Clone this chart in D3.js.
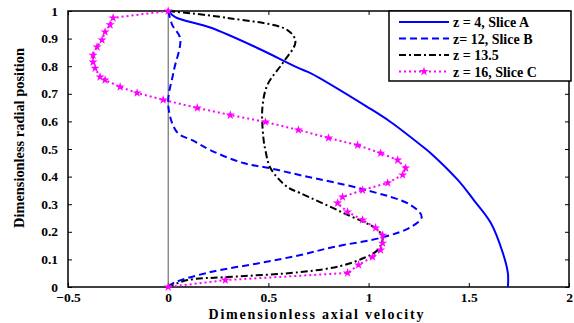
<!DOCTYPE html>
<html>
<head>
<meta charset="utf-8">
<script src="https://cdn.jsdelivr.net/npm/d3@7"></script>
<style>
  body { margin: 0; background: #fff; }
  svg text { font-family: "Liberation Serif", "Times New Roman", serif; font-weight: bold; }
</style>
</head>
<body>
<div id="chart"></div>
<script>
const FRAME_WIDTH = 574;
const FRAME_HEIGHT = 323;
const MARGINS = {left: 68, right: 5, top: 11, bottom: 36};

const VIS_WIDTH = FRAME_WIDTH - MARGINS.left - MARGINS.right;
const VIS_HEIGHT = FRAME_HEIGHT - MARGINS.top - MARGINS.bottom;

// data: [axial velocity, radial position]
const SLICE_A = [[0,1],[0.035,0.978],[0.21,0.94],[0.445,0.866],[0.66,0.79],[0.71,0.775],
  [0.995,0.652],[1.11,0.598],[1.285,0.5],[1.31,0.485],[1.445,0.388],[1.525,0.315],
  [1.61,0.232],[1.67,0.123],[1.695,0.05],[1.695,0]];
const SLICE_B = [[0,1],[0.02,0.95],[0.06,0.9],[0.027,0.78],[0.0,0.66],[0.045,0.56],
  [0.125,0.53],[0.21,0.496],[0.375,0.449],[0.51,0.43],[0.66,0.405],[0.995,0.35],
  [1.21,0.297],[1.265,0.254],[1.21,0.217],[1.075,0.181],[0.825,0.145],[0.66,0.116],
  [0.46,0.087],[0.21,0.054],[0.025,0.014],[0,0]];
const Z_13_5 = [[0,1],[0.295,0.975],[0.595,0.931],[0.635,0.888],[0.575,0.815],[0.495,0.732],
  [0.47,0.649],[0.475,0.54],[0.485,0.496],[0.51,0.431],[0.595,0.362],[0.66,0.34],
  [0.875,0.268],[1.045,0.207],[1.07,0.178],[1.045,0.134],[0.975,0.105],[0.86,0.076],
  [0.66,0.054],[0.295,0.036],[0.095,0.025],[0,0]];
const SLICE_C = [[0,1],[-0.275,0.975],[-0.29,0.95],[-0.315,0.924],[-0.33,0.895],[-0.355,0.87],
  [-0.375,0.84],[-0.375,0.815],[-0.365,0.793],[-0.34,0.761],[-0.315,0.75],[-0.24,0.725],
  [-0.155,0.703],[-0.025,0.678],[0.145,0.649],[0.31,0.623],[0.485,0.598],[0.65,0.569],
  [0.8,0.54],[0.945,0.514],[1.06,0.485],[1.145,0.46],[1.185,0.431],[1.17,0.406],
  [1.095,0.377],[0.97,0.351],[0.87,0.326],[0.845,0.304],[0.895,0.272],[0.97,0.243],
  [1.035,0.214],[1.07,0.188],[1.07,0.159],[1.06,0.134],[1.02,0.109],[0.95,0.08],
  [0.895,0.051],[0.285,0.025],[0,0]];

const X_TICKS = [-0.5, 0, 0.5, 1, 1.5, 2];
const Y_TICKS = [0, 0.1, 0.2, 0.3, 0.4, 0.5, 0.6, 0.7, 0.8, 0.9, 1];

const SERIES = [
  {name: "z = 4, Slice A", data: SLICE_A, color: "#0000ff", dash: null, markers: false},
  {name: "z= 12, Slice B", data: SLICE_B, color: "#0000ff", dash: "7,4", markers: false},
  {name: "z = 13.5", data: Z_13_5, color: "#000000", dash: "7,3,2,3", markers: false},
  {name: "z = 16, Slice C", data: SLICE_C, color: "#ff00ff", dash: "2,3", markers: true}
];

const FRAME = d3.select("#chart")
  .append("svg")
    .attr("width", FRAME_WIDTH)
    .attr("height", FRAME_HEIGHT);

const X_SCALE = d3.scaleLinear().domain([-0.5, 2]).range([MARGINS.left, MARGINS.left + VIS_WIDTH]);
const Y_SCALE = d3.scaleLinear().domain([0, 1]).range([MARGINS.top + VIS_HEIGHT, MARGINS.top]);

const fmt = (d) => d3.format("")(d);

// axes with inward ticks on all four sides
FRAME.append("g")
  .attr("transform", "translate(0," + (MARGINS.top + VIS_HEIGHT) + ")")
  .call(d3.axisBottom(X_SCALE).tickValues(X_TICKS).tickFormat(fmt).tickSizeInner(-4).tickSizeOuter(0).tickPadding(6))
  .call(g => g.select(".domain").remove())
  .selectAll("text").attr("font-size", "13.5px").attr("dy", "0.65em");

FRAME.append("g")
  .attr("transform", "translate(" + MARGINS.left + ",0)")
  .call(d3.axisLeft(Y_SCALE).tickValues(Y_TICKS).tickFormat(fmt).tickSizeInner(-4).tickSizeOuter(0).tickPadding(10))
  .call(g => g.select(".domain").remove())
  .selectAll("text").attr("font-size", "13.5px").attr("dy", "0.3em");

FRAME.append("g")
  .attr("transform", "translate(0," + MARGINS.top + ")")
  .call(d3.axisTop(X_SCALE).tickValues(X_TICKS).tickFormat("").tickSizeInner(-4).tickSizeOuter(0))
  .call(g => g.select(".domain").remove());

FRAME.append("g")
  .attr("transform", "translate(" + (MARGINS.left + VIS_WIDTH) + ",0)")
  .call(d3.axisRight(Y_SCALE).tickValues(Y_TICKS).tickFormat("").tickSizeInner(-4).tickSizeOuter(0))
  .call(g => g.select(".domain").remove());

FRAME.selectAll(".tick line").attr("stroke", "#000").attr("stroke-width", 1);
FRAME.selectAll(".tick text").attr("fill", "#000");

// box
FRAME.append("rect")
  .attr("x", MARGINS.left)
  .attr("y", MARGINS.top)
  .attr("width", VIS_WIDTH)
  .attr("height", VIS_HEIGHT)
  .attr("fill", "none")
  .attr("stroke", "#000")
  .attr("stroke-width", 1.5);

// vertical reference line at x = 0
FRAME.append("line")
  .attr("x1", X_SCALE(0)).attr("x2", X_SCALE(0))
  .attr("y1", Y_SCALE(0)).attr("y2", Y_SCALE(1))
  .attr("stroke", "#555")
  .attr("stroke-width", 1);

const line = d3.line()
  .x((d) => X_SCALE(d[0]))
  .y((d) => Y_SCALE(d[1]));

for (let s of SERIES) {
  FRAME.append("path")
    .datum(s.data)
    .attr("d", s.markers ? line.curve(d3.curveLinear) : line.curve(d3.curveCatmullRom.alpha(0.5)))
    .attr("fill", "none")
    .attr("stroke", s.color)
    .attr("stroke-width", 2)
    .attr("stroke-dasharray", s.dash);
  if (s.markers) {
    FRAME.selectAll(".marker")
      .data(s.data)
      .enter()
      .append("path")
        .attr("class", "marker")
        .attr("transform", (d) => "translate(" + X_SCALE(d[0]) + "," + Y_SCALE(d[1]) + ")")
        .attr("d", d3.symbol(d3.symbolStar, 26))
        .attr("fill", s.color);
  }
}

// legend
const LEG = {x: 389, y: 11, w: 182, h: 70};
FRAME.append("rect")
  .attr("x", LEG.x).attr("y", LEG.y)
  .attr("width", LEG.w).attr("height", LEG.h)
  .attr("fill", "#fff")
  .attr("stroke", "#000")
  .attr("stroke-width", 1.5);

SERIES.forEach((s, i) => {
  const yy = LEG.y + 11 + i * 16.5;
  FRAME.append("line")
    .attr("x1", LEG.x + 10).attr("x2", LEG.x + 60)
    .attr("y1", yy).attr("y2", yy)
    .attr("stroke", s.color)
    .attr("stroke-width", 2)
    .attr("stroke-dasharray", s.dash);
  if (s.markers) {
    FRAME.append("path")
      .attr("transform", "translate(" + (LEG.x + 35) + "," + yy + ")")
      .attr("d", d3.symbol(d3.symbolStar, 26))
      .attr("fill", s.color);
  }
  FRAME.append("text")
    .attr("x", LEG.x + 64)
    .attr("y", yy + 5)
    .attr("font-size", "14px")
    .text(s.name);
});

// axis titles
FRAME.append("text")
  .attr("x", 316)
  .attr("y", 319)
  .attr("text-anchor", "middle")
  .attr("font-size", "14px")
  .attr("textLength", 215)
  .attr("lengthAdjust", "spacing")
  .text("Dimensionless axial velocity");

FRAME.append("text")
  .attr("transform", "translate(24,138) rotate(-90)")
  .attr("text-anchor", "middle")
  .attr("font-size", "14px")
  .attr("textLength", 180)
  .attr("lengthAdjust", "spacingAndGlyphs")
  .text("Dimensionless radial position");
</script>
</body>
</html>
